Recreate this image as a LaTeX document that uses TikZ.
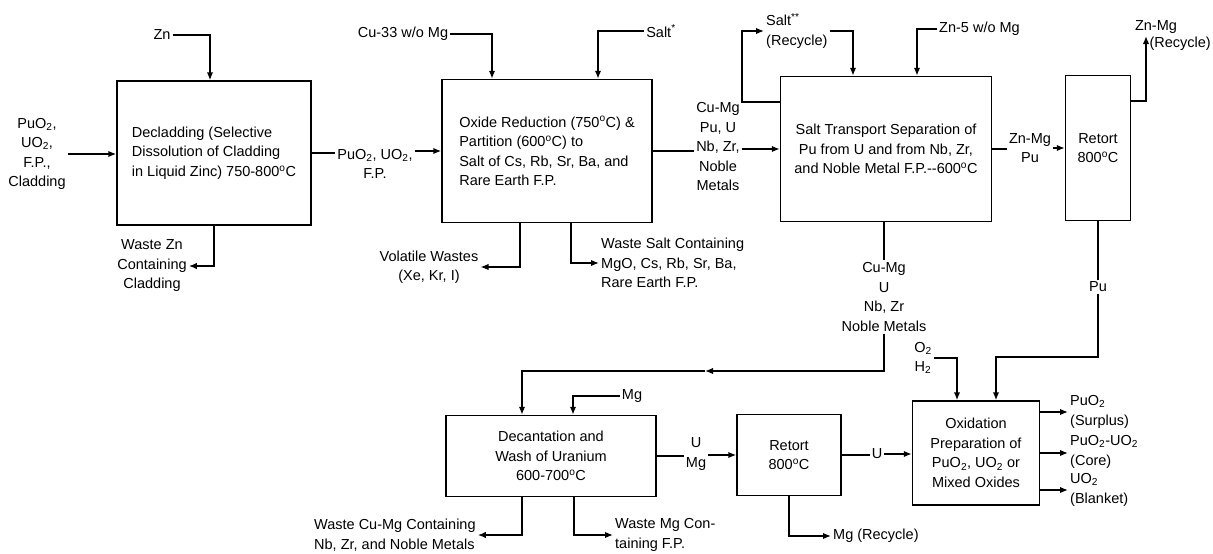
\documentclass[tikz,border=0pt]{standalone}
\usepackage{fontspec}
\setmainfont{Liberation Sans}
\usetikzlibrary{arrows.meta}
\newcommand{\dgC}{\textsuperscript{o}C}
\newcommand{\subtwo}{\textsubscript{2}}

\begin{document}
\begin{tikzpicture}[x=1pt,y=-1pt,
    every node/.style={font=\fontsize{14.5}{19.5}\selectfont, inner sep=2pt},
    procbox/.style={draw, line width=1.5pt, align=center},
    lbl/.style={align=center},
    flow/.style={line width=1.5pt},
    arr/.style={flow, -{Latex[length=8pt,width=6.5pt]}}]
    \useasboundingbox (0,0) rectangle (1213,554);

    \node[procbox, align=left, minimum width=194pt, minimum height=144pt] (declad) at (214,153)
        {Decladding (Selective\\Dissolution of Cladding\\in Liquid Zinc) 750-800\dgC};
    \node[procbox, align=left, minimum width=210pt, minimum height=143pt] (oxred) at (547,151)
        {Oxide Reduction (750\dgC) \&\\Partition (600\dgC) to\\Salt of Cs, Rb, Sr, Ba, and\\Rare Earth F.P.};
    \node[procbox, minimum width=211pt, minimum height=145pt] (salttr) at (886,149)
        {Salt Transport Separation of\\Pu from U and from Nb, Zr,\\and Noble Metal F.P.-{}-600\dgC};
    \node[procbox, minimum width=65pt, minimum height=145pt] (retortA) at (1098,148) {Retort\\800\dgC};
    \node[procbox, minimum width=210pt, minimum height=81pt] (decant) at (551,456)
        {Decantation and\\Wash of Uranium\\600-700\dgC};
    \node[procbox, minimum width=104pt, minimum height=81pt] (retortB) at (789,455) {Retort\\800\dgC};
    \node[procbox, minimum width=127pt, minimum height=104pt] (oxid) at (976,453)
        {Oxidation\\Preparation of\\PuO\subtwo, UO\subtwo{} or\\Mixed Oxides};

    \node[lbl] (zn) at (162,35) {Zn};
    \node[lbl] (feed) at (37,154) {PuO\subtwo,\\UO\subtwo,\\F.P.,\\Cladding};
    \node[lbl] (wzn) at (152,266) {Waste Zn\\Containing\\Cladding};
    \node[lbl] (pout) at (375,164) {PuO\subtwo, UO\subtwo,\\F.P.};
    \node[lbl] (cu33) at (403,34) {Cu-33 w/o Mg};
    \node[lbl] (salt1) at (661,31) {Salt\textsuperscript{*}};
    \node[lbl] (volat) at (429,267) {Volatile Wastes\\(Xe, Kr, I)};
    \node[lbl, align=left, anchor=west] (wsalt) at (599,263) {Waste Salt Containing\\MgO, Cs, Rb, Sr, Ba,\\Rare Earth F.P.};
    \node[lbl] (cm1) at (718,147) {Cu-Mg\\Pu, U\\Nb, Zr,\\Noble\\Metals};
    \node[lbl, align=left, anchor=west] (saltrec) at (764,31) {Salt\textsuperscript{**}\\(Recycle)};
    \node[lbl, anchor=west] (zn5) at (937,29) {Zn-5 w/o Mg};
    \node[lbl] (zmpu) at (1030,148) {Zn-Mg\\Pu};
    \node[lbl] (znmg) at (1156,27) {Zn-Mg};
    \node[lbl, anchor=east] (recA) at (1213,44) {(Recycle)};
    \coordinate (zmtip) at (1146,36);
    \node[lbl] (pu) at (1098,287) {Pu};
    \coordinate (pubend) at (1098,357);
    \node[lbl] (cm2) at (884,297) {Cu-Mg\\U\\Nb, Zr\\Noble Metals};
    \coordinate (cmbend) at (884,371);
    \coordinate (cmmid) at (705,371);
    \node[lbl] (mg) at (632,396) {Mg};
    \node[lbl, align=left, anchor=west] (wcumg) at (312,535) {Waste Cu-Mg Containing\\Nb, Zr, and Noble Metals};
    \node[lbl, align=left, anchor=west] (wmg) at (613,535) {Waste Mg Con-\\taining F.P.};
    \node[lbl] (umg) at (696,454) {U\\Mg};
    \node[lbl] (u1) at (877,454) {U};
    \node[lbl, anchor=west] (mgrec) at (831,536) {Mg (Recycle)};
    \node[lbl] (o2h2) at (923,358) {O\subtwo\\H\subtwo};
    \node[lbl, align=left, anchor=west] (out1) at (1068,412) {PuO\subtwo\\(Surplus)};
    \node[lbl, align=left, anchor=west] (out2) at (1068,452) {PuO\subtwo-UO\subtwo\\(Core)};
    \node[lbl, align=left, anchor=west] (out3) at (1068,490) {UO\subtwo\\(Blanket)};

    \draw[arr] (zn.east) -| ([xshift=-4pt]declad.north);
    \draw[arr] (feed.east) -- (feed.east -| declad.west);
    \draw[arr] (declad.south) |- (wzn.east);
    \draw[flow] (declad.east) -- (declad.east -| pout.west);
    \draw[arr] (oxred.west -| pout.east) -- (oxred.west);
    \draw[arr] (cu33.east) -| ([xshift=-55pt]oxred.north);
    \draw[arr] (salt1.west) -| ([xshift=51pt]oxred.north);
    \draw[arr] ([xshift=-27pt]oxred.south) |- (volat.east);
    \draw[arr] ([xshift=24pt]oxred.south) |- (wsalt.west);
    \draw[flow] (oxred.east) -- (oxred.east -| cm1.west);
    \draw[arr] (salttr.west -| cm1.east) -- (salttr.west);
    \draw[arr] ([yshift=47pt]salttr.west) -- ++(-38,0) |- (saltrec.west);
    \draw[arr] (saltrec.east) -| ([xshift=-33pt]salttr.north);
    \draw[arr] (zn5.west) -| ([xshift=31pt]salttr.north);
    \draw[flow] (salttr.east) -- (salttr.east -| zmpu.west);
    \draw[arr] (zmpu.east |- retortA.west) -- (retortA.west);
    \draw[arr] ([yshift=47pt]retortA.east) -| (zmtip);
    \draw[flow] (retortA.south) -- (pu.north);
    \draw[arr] (pu.south) -- (pubend) -| ([xshift=20pt]oxid.north);
    \draw[flow] (cm2.north |- salttr.south) -- (cm2.north);
    \draw[arr] (cm2.south) -- (cmbend) -- (cmmid);
    \draw[arr] (cmmid) -| ([xshift=-29pt]decant.north);
    \draw[arr] (mg.west) -| ([xshift=22pt]decant.north);
    \draw[arr] ([xshift=-29pt]decant.south) |- (wcumg.east);
    \draw[arr] ([xshift=23pt]decant.south) |- (wmg.west);
    \draw[flow] (decant.east) -- (decant.east -| umg.west);
    \draw[arr] (retortB.west -| umg.east) -- (retortB.west);
    \draw[flow] (retortB.east) -- (retortB.east -| u1.west);
    \draw[arr] (u1.east) -- (u1.east -| oxid.west);
    \draw[arr] (retortB.south) |- (mgrec.west);
    \draw[arr] (o2h2.east) -| ([xshift=-19pt]oxid.north);
    \draw[arr] ([yshift=41pt]oxid.east) -- (out1.west);
    \draw[arr] (oxid.east) -- (oxid.east -| out2.west);
    \draw[arr] ([yshift=-37pt]oxid.east) -- ([yshift=-37pt]oxid.east -| out3.west);
\end{tikzpicture}
\end{document}
